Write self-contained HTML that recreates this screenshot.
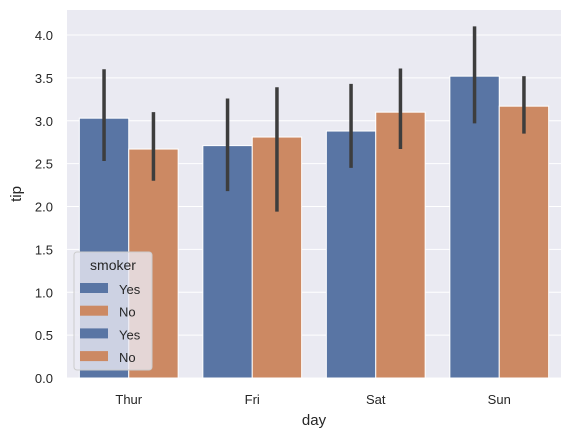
<!DOCTYPE html>
<html><head><meta charset="utf-8"><style>
body{margin:0;background:#fff;}
svg{display:block;font-family:"Liberation Sans",sans-serif;}
</style></head><body>
<svg id="chart" width="570" height="438">
<rect x="67" y="10" width="494" height="368" fill="#eaeaf2"/>
<g id="grid"></g><g id="bars"></g><g id="axes"></g>
</svg>
<script>
const days=["Thur","Fri","Sat","Sun"];
const hues=["Yes","No"];
const yesMeans=[3.03,2.71,2.88,3.52];
const noMeans=[2.67,2.81,3.10,3.17];
const yesLow=[2.53,2.18,2.45,2.97];
const yesHigh=[3.60,3.26,3.43,4.10];
const noLow=[2.30,1.94,2.67,2.85];
const noHigh=[3.10,3.39,3.61,3.52];
const yTicks=[0,0.5,1,1.5,2,2.5,3,3.5,4];
const colors=["#5975a4","#cc8963"];
const NS="http://www.w3.org/2000/svg";
const X0=67,X1=561,Y0=378,YPX=85.75;
const y=v=>Y0-v*YPX;
const band=(X1-X0)/days.length;
const xc=i=>X0+band*(i+0.5);
function mk(tag,attrs,parent,text){const e=document.createElementNS(NS,tag);for(const k in attrs)e.setAttribute(k,attrs[k]);if(text!==undefined)e.textContent=text;parent.appendChild(e);return e;}
const grid=document.getElementById('grid'),bars=document.getElementById('bars'),axes=document.getElementById('axes');
yTicks.forEach(t=>{
 const l=mk('line',{x1:X0,x2:X1,y1:y(t),y2:y(t),stroke:'#fff','stroke-width':1},grid);
 
 
 const tx=mk('text',{x:X0-14,y:y(t)+5,'text-anchor':'end','font-size':13,fill:'#262626'},axes,t.toFixed(1));
 
 
});
const bw=band*0.4;
const series=[[yesMeans,yesLow,yesHigh],[noMeans,noLow,noHigh]];
days.forEach((d,i)=>{
 series.forEach((s,h)=>{
  const x=xc(i)-bw+h*bw;
  const r=mk('rect',{x:x,y:y(s[0][i]),width:bw,height:Y0-y(s[0][i]),fill:colors[h],stroke:'#fff','stroke-width':1},bars);
  
  
  const e=mk('line',{x1:x+bw/2,x2:x+bw/2,y1:y(s[1][i]),y2:y(s[2][i]),stroke:'#3d3d3d','stroke-width':3.5},bars);
  
  
 });
 const tl=mk('text',{x:xc(i),y:Y0+26,'text-anchor':'middle','font-size':13,fill:'#262626'},axes,d);
 
 
});
const xt=mk('text',{x:(X0+X1)/2,y:425,'text-anchor':'middle','font-size':15,fill:'#262626'},axes,'day');


const yt=mk('text',{x:21,y:194,'text-anchor':'middle','font-size':15,fill:'#262626',transform:'rotate(-90 21 194)'},axes,'tip');


const lg=mk('g',{},axes);


mk('rect',{x:74,y:252,width:78,height:118,rx:3,fill:'#eaeaf2','fill-opacity':0.8,stroke:'#cccccc'},lg);
mk('text',{x:113,y:270,'text-anchor':'middle','font-size':14,fill:'#262626'},lg,'smoker');
const labels=["Yes","No","Yes","No"];
labels.forEach((lab,k)=>{
 const yy=289+k*22.7;
 const sw=mk('rect',{x:80,y:yy-6,width:28,height:10,fill:colors[k%2]},lg);
 
 
 const t=mk('text',{x:119,y:yy+5,'font-size':13,fill:'#262626'},lg,lab);
 
 
});
</script>
</body></html>
